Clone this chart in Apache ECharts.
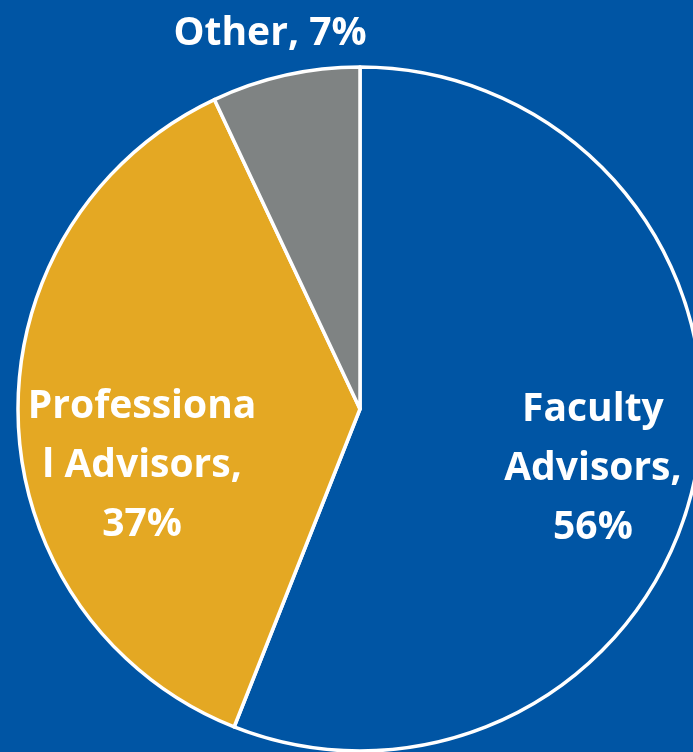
<!DOCTYPE html>
<html>
<head>
<meta charset="utf-8">
<script src="https://cdn.jsdelivr.net/npm/echarts@6/dist/echarts.min.js"></script>
<style>
  html, body { margin: 0; padding: 0; background: #0055a4; }
  #chart { width: 693px; height: 752px; }
</style>
</head>
<body>
<div id="chart"></div>
<script>
// slices, clockwise from 12 o'clock
const names = ['Faculty Advisors', 'Professional Advisors', 'Other']
const values = [56, 37, 7]
const labels = ['Faculty\nAdvisors,\n56%', 'Professiona\nl Advisors,\n37%', 'Other, 7%']
const colors = ['#0055a4', '#e4a823', '#7f8383']
// nudge each label from its default inside spot
const offsets = [[62, 27], [-44, 51], [-52, -205]]

const chart = echarts.init(document.getElementById('chart'))

chart.setOption({
  backgroundColor: '#0055a4',
  animation: false,
  series: [{
    type: 'pie',
    center: [360, 409],
    radius: 342,
    startAngle: 90,
    clockwise: true,
    itemStyle: { borderColor: '#ffffff', borderWidth: 3.5 },
    label: {
      show: true,
      position: 'inside',
      color: '#ffffff',
      fontFamily: 'Open Sans',
      fontWeight: 'bold',
      fontSize: 39,
      lineHeight: 59,
      align: 'center'
    },
    labelLine: { show: false },
    emphasis: { disabled: true },
    data: names.map((n, i) => ({
      name: n,
      value: values[i],
      itemStyle: { color: colors[i] },
      label: { formatter: labels[i], offset: offsets[i] }
    }))
  }]
})
</script>
</body>
</html>
